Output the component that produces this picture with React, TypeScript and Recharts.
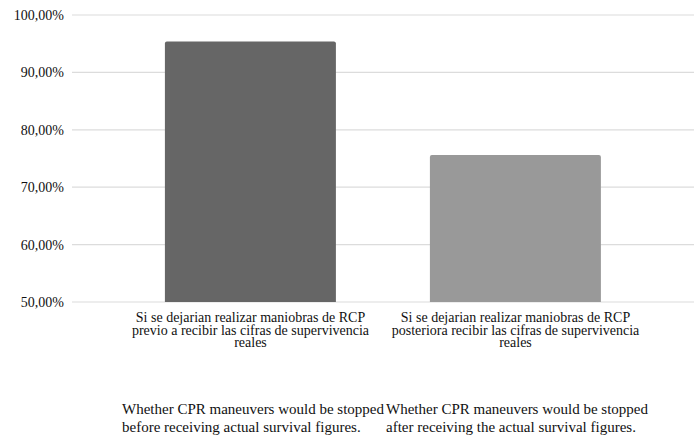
import { Bar, BarChart, CartesianGrid, Cell, XAxis, YAxis } from "recharts";

const categories = ["previo", "posterior"];
const values = [95.4, 75.6];
const labelLines = [
  ["Si se dejarian realizar maniobras de RCP", "previo a recibir las cifras de supervivencia", "reales"],
  ["Si se dejarian realizar maniobras de RCP", "posteriora recibir las cifras de supervivencia", "reales"],
];
const yTicks = [50, 60, 70, 80, 90, 100];
const captions = [
  ["Whether CPR maneuvers would be stopped", "before receiving actual survival figures."],
  ["Whether CPR maneuvers would be stopped", "after receiving the actual survival figures."],
];

const COLORS = ["#666666", "#999999"];
const FONT = "'Liberation Serif', 'Times New Roman', serif";

const data = categories.map((c, i) => ({ name: c, value: values[i] }));

const fmt = (v: number) => `${v.toFixed(2).replace(".", ",")}%`;

const CategoryTick = (props: any) => {
  const { x, y, index } = props;
  const lines = labelLines[index] || [];
  return (
    <text x={x} y={y} textAnchor="middle" fill="#111" fontFamily={FONT} fontSize={14}>
      {lines.map((l, i) => (
        <tspan key={i} x={x} y={y + 20 + i * 12.6}>
          {l}
        </tspan>
      ))}
    </text>
  );
};

const ValueTick = (props: any) => {
  const { x, y, payload } = props;
  return (
    <text x={x} y={y} dy="0.355em" textAnchor="end" fill="#111" fontFamily={FONT} fontSize={14}>
      {fmt(payload.value)}
    </text>
  );
};

const App = () => {
  return (
    <div style={{ position: "absolute", left: 0, top: 0, width: 698, height: 439, background: "#fff", fontFamily: FONT }}>
      <BarChart
        width={698}
        height={360}
        data={data}
        margin={{ top: 15, right: 4, left: 0, bottom: 0 }}
        barCategoryGap="17.7%"
      >
        <CartesianGrid vertical={false} stroke="#dcdcdc" strokeWidth={1.2} />
        <XAxis
          dataKey="name"
          axisLine={false}
          tickLine={false}
          tickSize={0}
          tickMargin={0}
          height={58}
          interval={0}
          padding={{ left: 46, right: 46 }}
          tick={<CategoryTick />}
        />
        <YAxis
          width={72}
          domain={[50, 100]}
          ticks={yTicks}
          axisLine={false}
          tickLine={false}
          tick={<ValueTick />}
        />
        <Bar dataKey="value" radius={[2, 2, 0, 0]} isAnimationActive={false}>
          {data.map((_, i) => (
            <Cell key={i} fill={COLORS[i]} />
          ))}
        </Bar>
      </BarChart>
      <svg width={698} height={439} style={{ position: "absolute", left: 0, top: 0, pointerEvents: "none" }}>
        {captions.map((cap, i) => (
          <text key={i} fill="#111" fontFamily={FONT} fontSize={15}>
            {cap.map((line, j) => (
              <tspan key={j} x={i === 0 ? 122 : 386} y={414 + j * 18}>
                {line}
              </tspan>
            ))}
          </text>
        ))}
      </svg>
    </div>
  );
};

export default App;
